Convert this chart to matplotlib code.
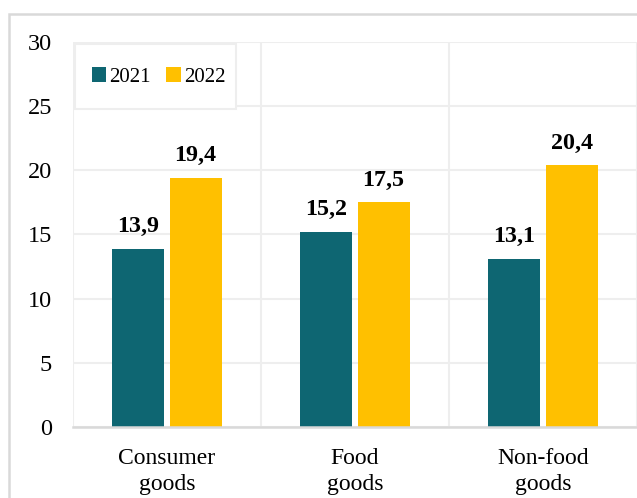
import numpy as np
import matplotlib.pyplot as plt
from matplotlib.patches import Rectangle
from matplotlib.ticker import FixedLocator

plt.rcParams['font.family'] = ['Liberation Serif', 'DejaVu Serif']

categories = ['Consumer\ngoods', 'Food\ngoods', 'Non-food\ngoods']
years = ['2021', '2022']
values_2021 = [13.9, 15.2, 13.1]
values_2022 = [19.4, 17.5, 20.4]
colors = ['#0e6672', '#ffc000']

fig = plt.figure(figsize=(6.37, 4.98), dpi=100)
ax = fig.add_axes([0.1146, 0.1426, 0.8854, 0.7731])

x = np.arange(len(categories))
w = 0.277
off = 0.152
b1 = ax.bar(x - off, values_2021, w, color=colors[0], label=years[0], zorder=3)
b2 = ax.bar(x + off, values_2022, w, color=colors[1], label=years[1], zorder=3)

# value labels with decimal comma
for bars, vals in ((b1, values_2021), (b2, values_2022)):
    for rect, v in zip(bars, vals):
        ax.annotate(f'{v:.1f}'.replace('.', ','),
                    (rect.get_x() + rect.get_width() / 2, v),
                    xytext=(0, 12), textcoords='offset points',
                    ha='center', va='baseline', fontsize=17.3, fontweight='bold')

ax.set_xlim(-0.5, 2.5)
ax.set_ylim(0, 30)
ax.set_yticks(range(0, 31, 5))
ax.set_xticks(x)
ax.set_xticklabels(categories, fontsize=17, linespacing=1.3)
ax.xaxis.set_minor_locator(FixedLocator([-0.5, 0.5, 1.5, 2.5]))
ax.tick_params(axis='y', length=0, pad=15, labelsize=17.5)
ax.tick_params(axis='x', which='both', length=0, pad=15)

ax.grid(axis='y', color='#eeeeee', lw=1.5, zorder=0)
ax.grid(axis='x', which='minor', color='#eeeeee', lw=1.5, zorder=0)
ax.grid(axis='x', which='major', visible=False)
for s in ('top', 'right', 'left'):
    ax.spines[s].set_visible(False)
ax.spines['bottom'].set_color('#d9d9d9')
ax.spines['bottom'].set_linewidth(1.8)
ax.spines['bottom'].set_zorder(4)

# legend without its own frame; box drawn separately
leg = ax.legend(loc='center left', bbox_to_anchor=(0.033, 0.909), ncol=2,
                fontsize=15, frameon=False,
                handlelength=0.7, handleheight=0.7, handletextpad=0.15,
                columnspacing=0.75, borderpad=0, borderaxespad=0)
leg.set_zorder(6)
ax.add_patch(Rectangle((0.0035, 0.826), 0.2855, 0.169, transform=ax.transAxes,
                       facecolor='white', edgecolor='#eeeeee', lw=1.5, zorder=5))

# chart frame, open to the right and bottom
fig.patches.append(Rectangle((9 / 637, -0.1), 1.2, 1.1 - 14 / 498,
                             transform=fig.transFigure, fill=False,
                             edgecolor='#d9d9d9', lw=1.8))

fig.savefig('out.png', dpi=100)
